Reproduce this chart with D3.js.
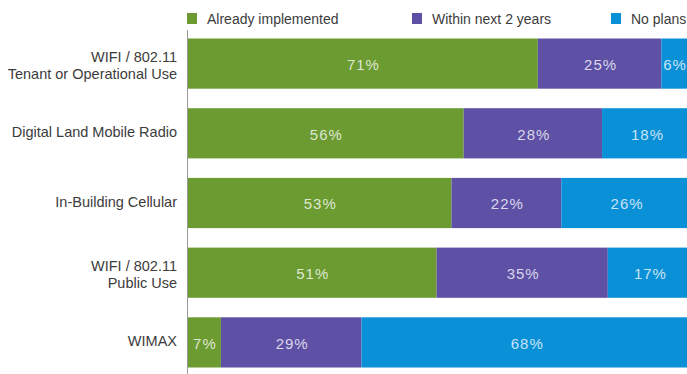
<!DOCTYPE html>
<html>
<head>
<meta charset="utf-8">
<script src="https://cdn.jsdelivr.net/npm/d3@7/dist/d3.min.js"></script>
<style>
  html, body { margin: 0; padding: 0; background: #fff; overflow: hidden; }
  svg { display: block; font-family: "Liberation Sans", Arial, Helvetica, sans-serif; }
</style>
</head>
<body>
<svg id="chart" width="687" height="374"></svg>
<script>
// Wireless technologies in use, share of respondents
const categories = [
  ["WIFI / 802.11", "Tenant or Operational Use"],
  ["Digital Land Mobile Radio"],
  ["In-Building Cellular"],
  ["WIFI / 802.11", "Public Use"],
  ["WIMAX"]
];
const seriesNames = ["Already implemented", "Within next 2 years", "No plans"];
const implemented = [71, 56, 53, 51, 7];
const within2Years = [25, 28, 22, 35, 29];
const noPlans = [6, 18, 26, 17, 68];
const seriesColors = ["#6b9b31", "#5d50a5", "#0a90d6"];

const W = 687, H = 374;
const svg = d3.select("#chart");
const margin = { left: 187, top: 38.5 };
const plotWidth = 504;

// Each row is stacked to its own total so every bar spans the full width
const rows = categories.map((c, i) => {
  const vals = [implemented[i], within2Years[i], noPlans[i]];
  const total = d3.sum(vals);
  let acc = 0;
  const segs = vals.map((v, k) => {
    const s = { key: k, value: v, x0: acc / total, x1: (acc + v) / total };
    acc += v;
    return s;
  });
  return { index: i, label: c, segs };
});

const x = d3.scaleLinear().domain([0, 1]).range([margin.left, margin.left + plotWidth]);
const y = d3.scaleBand()
  .domain(d3.range(categories.length))
  .range([margin.top, 367.5])
  .paddingInner(0.28)
  .paddingOuter(0.0);

// Legend
const legendX = [187, 412, 611];
const legend = svg.append("g");
seriesNames.forEach((name, k) => {
  legend.append("rect")
    .attr("x", legendX[k]).attr("y", 13)
    .attr("width", 10).attr("height", 11)
    .attr("fill", seriesColors[k]);
  legend.append("text")
    .attr("x", legendX[k] + 20).attr("y", 23.5)
    .attr("font-size", 14)
    .attr("fill", "#3c3c3c")
    .text(name);
});

// Bars
const rowG = svg.append("g").selectAll("g").data(rows).join("g")
  .attr("transform", d => `translate(0,${y(d.index)})`);

rowG.selectAll("rect").data(d => d.segs).join("rect")
  .attr("x", d => x(d.x0))
  .attr("width", d => x(d.x1) - x(d.x0))
  .attr("y", 0)
  .attr("height", y.bandwidth())
  .attr("fill", d => seriesColors[d.key]);

// Value labels centred in each segment, kept inside the visible area
rowG.selectAll("text.val").data(d => d.segs).join("text")
  .attr("class", "val")
  .attr("x", d => Math.min((x(d.x0) + x(d.x1)) / 2 + 1, W - 12))
  .attr("y", y.bandwidth() / 2 + 6.5)
  .attr("text-anchor", "middle")
  .attr("font-size", 15)
  .attr("letter-spacing", "1px")
  .attr("fill", "#ffffff")
  .attr("fill-opacity", 0.78)
  .text(d => d.value + "%");

// Category labels, right aligned against the axis
const catG = svg.append("g").selectAll("text").data(rows).join("text")
  .attr("text-anchor", "end")
  .attr("font-size", 14.5)
  .attr("fill", "#3c3c3c")
  .attr("transform", d => `translate(177,${y(d.index) + y.bandwidth() / 2})`);

catG.each(function(d) {
  const lines = d.label;
  const t = d3.select(this);
  const lh = 17;
  const first = lines.length === 1 ? 4 : -2;
  lines.forEach((ln, j) => {
    t.append("tspan").attr("x", 0).attr("y", first + j * lh).text(ln);
  });
});

// Vertical axis line
svg.append("line")
  .attr("x1", margin.left + 0.5).attr("x2", margin.left + 0.5)
  .attr("y1", 30).attr("y2", H)
  .attr("stroke", "#9a9a9a").attr("stroke-width", 1);
</script>
</body>
</html>
